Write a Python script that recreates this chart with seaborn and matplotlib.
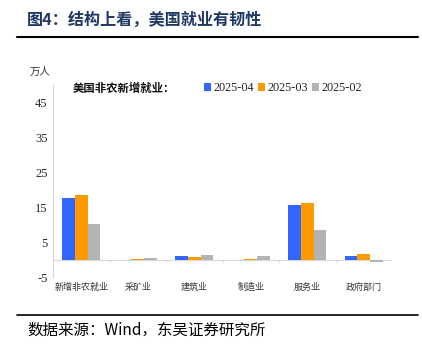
import matplotlib
matplotlib.use("Agg")
import matplotlib.pyplot as plt
import seaborn as sns
import pandas as pd
import numpy as np
from matplotlib.lines import Line2D
from matplotlib.patches import Patch

categories = ["新增非农就业", "采矿业", "建筑业", "制造业", "服务业", "政府部门"]
series_names = ["2025-04", "2025-03", "2025-02"]
v_2025_04 = [17.7, -0.1, 1.0, -0.1, 15.6, 1.0]
v_2025_03 = [18.5, 0.1, 0.6, 0.2, 16.2, 1.5]
v_2025_02 = [10.2, 0.5, 1.2, 0.9, 8.4, -0.7]
colors = ["#3366FF", "#FF9900", "#B3B3B3"]
yticks = [-5, 5, 15, 25, 35, 45]

sns.set_theme(style="white")
plt.rcParams['font.family'] = ['Noto Sans CJK SC', 'DejaVu Sans']

rows = []
for name, vals in zip(series_names, [v_2025_04, v_2025_03, v_2025_02]):
    for c, v in zip(categories, vals):
        rows.append({"cat": c, "series": name, "value": v})
df = pd.DataFrame(rows)

fig = plt.figure(figsize=(4.22, 3.55), dpi=100)
ax = fig.add_axes([53/422, 1-277/355, (392-53)/422, (277-85)/355])

sns.barplot(data=df, x="cat", y="value", hue="series", order=categories,
            hue_order=series_names, palette=colors, width=0.67, ax=ax,
            saturation=1, legend=False, errorbar=None, edgecolor="none")

ax.set_ylim(-5, 50)
ax.set_xlim(-0.5, len(categories)-0.5)
ax.set_yticks(yticks)
ax.set_yticklabels([str(t) for t in yticks], family="Liberation Serif", fontsize=9)
ax.set_xticks(range(len(categories)))
ax.set_xticklabels(categories, fontsize=6.5, color="#333333")
ax.tick_params(axis="both", length=0, pad=4)
ax.tick_params(axis="x", pad=4)
ax.set_xlabel("")
ax.set_ylabel("")
for s in ["top", "right", "bottom"]:
    ax.spines[s].set_visible(False)
ax.spines["left"].set_color("#D9D9D9")
ax.spines["left"].set_linewidth(0.8)

# zero line with category boundary ticks
ax.axhline(0, color="#D9D9D9", lw=0.8, zorder=0)
bounds = np.arange(len(categories)-1) + 0.5
ax.vlines(bounds, -0.7, 0, color="#D9D9D9", lw=0.8, zorder=0)

# unit label
fig.text(40/422, 1-72/355, "万人", fontsize=7.5, color="#333333", ha="center", va="center")

# legend
fig.text(73/422, 1-88/355, "美国非农新增就业：", fontsize=8.2, color="#111111",
         ha="left", va="center", fontweight="bold")
handles = [Patch(facecolor=c, edgecolor="none") for c in colors]
leg = fig.legend(handles, series_names, loc="center left", bbox_to_anchor=(199/422, 1-88/355),
                 ncol=3, frameon=False, handlelength=0.6, handleheight=0.6,
                 handletextpad=0.2, columnspacing=0.3, borderaxespad=0,
                 prop={"family": "Liberation Serif", "size": 8.8})

# title and lines
fig.text(27/422, 1-20/355, "图4：结构上看，美国就业有韧性", fontsize=11.6, fontweight="bold",
         color="#1F3864", ha="left", va="center")
fig.add_artist(Line2D([17/422, 418/422], [1-37/355, 1-37/355], color="black", lw=1.5))
fig.add_artist(Line2D([17/422, 418/422], [1-315/355, 1-315/355], color="black", lw=1.2))
fig.text(27/422, 1-330/355, "数据来源：Wind，东吴证券研究所", fontsize=11.2,
         color="black", ha="left", va="center")

fig.savefig("out.png", dpi=100)
